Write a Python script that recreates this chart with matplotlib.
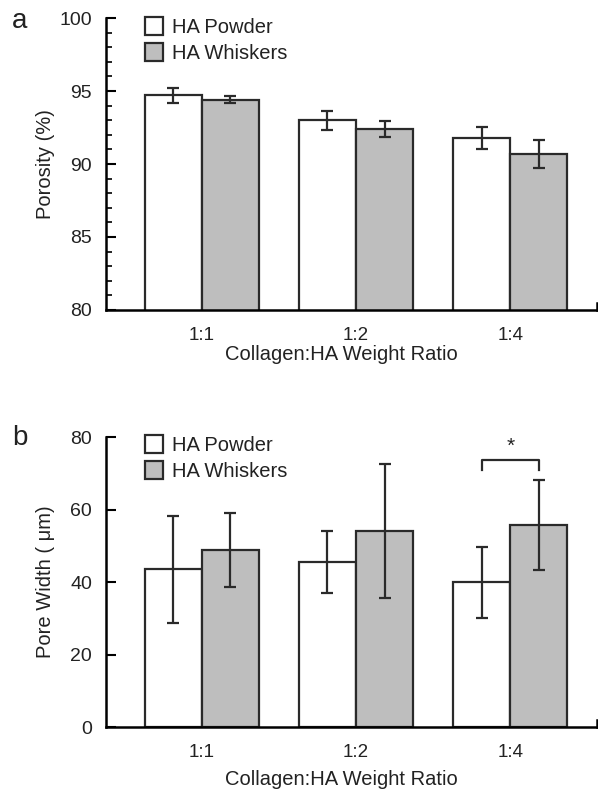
import numpy as np
import matplotlib
matplotlib.use('Agg')
import matplotlib.pyplot as plt
from matplotlib.ticker import MultipleLocator

plt.rcParams['font.family'] = ['Liberation Sans', 'DejaVu Sans']

# データ
ratios = ['1:1', '1:2', '1:4']
series = ['HA Powder', 'HA Whiskers']
por_powder = [94.7, 93.0, 91.8]
por_powder_err = [0.5, 0.65, 0.75]
por_whisk = [94.4, 92.4, 90.7]
por_whisk_err = [0.25, 0.55, 0.95]
pw_powder = [43.5, 45.5, 40.0]
pw_powder_err = [14.8, 8.6, 9.8]
pw_whisk = [48.8, 54.1, 55.7]
pw_whisk_err = [10.2, 18.5, 12.4]

txt = '#222222'
edge = '#2a2a2a'
gray = '#bebebe'

fig = plt.figure(figsize=(5.98, 7.9), dpi=100)
ax1 = fig.add_axes([0.1773, 0.6076, 0.8207, 0.3696])
ax2 = fig.add_axes([0.1773, 0.0797, 0.8207, 0.3671])

x = np.arange(len(ratios))
w = 0.37

def draw(ax, p, pe, wh, we, ylim, major, minor, ylabel, xlab_y, leg_y):
    ax.bar(x - w/2, p, w, color='white', edgecolor=edge, lw=1.6, label=series[0], zorder=2)
    ax.bar(x + w/2, wh, w, color=gray, edgecolor=edge, lw=1.6, label=series[1], zorder=2)
    ax.errorbar(x - w/2, p, yerr=pe, fmt='none', ecolor=edge, elinewidth=1.6, capsize=4, capthick=1.6, zorder=3)
    ax.errorbar(x + w/2, wh, yerr=we, fmt='none', ecolor=edge, elinewidth=1.6, capsize=4, capthick=1.6, zorder=3)
    ax.set_xlim(-0.62, 2.56)
    ax.set_ylim(*ylim)
    ax.set_xticks(x)
    ax.set_xticklabels(ratios)
    ax.yaxis.set_major_locator(MultipleLocator(major))
    if minor:
        ax.yaxis.set_minor_locator(MultipleLocator(minor))
    ax.tick_params(axis='y', direction='in', length=7, width=1.5, labelsize=14, colors='black', labelcolor=txt, pad=10)
    ax.tick_params(axis='y', which='minor', direction='in', length=4.5, width=1.2)
    ax.tick_params(axis='x', length=0, labelsize=13.5, labelcolor=txt, pad=12)
    for s in ['top', 'right']:
        ax.spines[s].set_visible(False)
    for s in ['left', 'bottom']:
        ax.spines[s].set_linewidth(1.8)
    ax.plot([1, 1], [0, 0.025], transform=ax.transAxes, color='black', lw=1.8, clip_on=False)
    ax.set_xlabel('Collagen:HA Weight Ratio', fontsize=14.5, color=txt, va='top')
    ax.xaxis.set_label_coords(0.48, xlab_y)
    ax.set_ylabel(ylabel, fontsize=14.5, color=txt)
    ax.yaxis.set_label_coords(-0.103, 0.5)
    leg = ax.legend(loc='upper left', bbox_to_anchor=(0.0794, leg_y), frameon=False, fontsize=14.5,
                    handlelength=0.9, handleheight=1.0, handletextpad=0.45, labelspacing=0.3,
                    borderpad=0, borderaxespad=0)
    for t in leg.get_texts():
        t.set_color(txt)

draw(ax1, por_powder, por_powder_err, por_whisk, por_whisk_err, (80, 100), 5, 1, 'Porosity (%)', -0.12, 1.003)
draw(ax2, pw_powder, pw_powder_err, pw_whisk, pw_whisk_err, (0, 80), 20, None, 'Pore Width ( \u03bcm)', -0.148, 1.007)

# 有意差ブラケット
ax2.plot([2 - w/2, 2 - w/2, 2 + w/2, 2 + w/2], [70.9, 73.6, 73.6, 70.9], color=edge, lw=1.6)
ax2.text(2, 76.0, '*', ha='center', va='baseline', fontsize=15, color=txt)

fig.text(12/598, 1 - 28/790, 'a', fontsize=20, color=txt, ha='left', va='baseline')
fig.text(12/598, 1 - 445/790, 'b', fontsize=20, color=txt, ha='left', va='baseline')

plt.savefig('out.png', dpi=100)
